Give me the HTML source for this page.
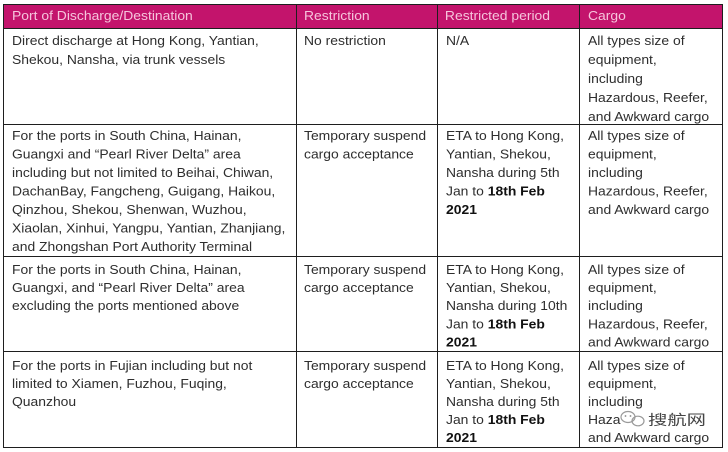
<!DOCTYPE html>
<html>
<head>
<meta charset="utf-8">
<style>
  html,body{margin:0;padding:0;background:#fff;}
  svg{display:block;}
  text{font-family:"Liberation Sans","Noto Sans CJK SC",sans-serif;font-size:13px;fill:#2e2e2e;}
  .h{fill:#f6c4dc;font-size:13px;}
  .b{font-weight:bold;fill:#111;}
  .wm{fill:#444;font-size:14px;}
</style>
</head>
<body>
<svg width="728" height="452" viewBox="0 0 728 452" xmlns="http://www.w3.org/2000/svg">
  <rect x="0" y="0" width="728" height="452" fill="#fff"/>
  <!-- header -->
  <rect x="3" y="4" width="719" height="24" fill="#c3146c"/>

  <!-- grid lines -->
  <g stroke="#1e1e1e" stroke-width="1" shape-rendering="crispEdges" fill="none">
    <line x1="3" y1="4.5" x2="722.5" y2="4.5"/>
    <line x1="3" y1="28.5" x2="722.5" y2="28.5"/>
    <line x1="3" y1="124.5" x2="722.5" y2="124.5"/>
    <line x1="3" y1="256.5" x2="722.5" y2="256.5"/>
    <line x1="3" y1="351.5" x2="722.5" y2="351.5"/>
    <line x1="3" y1="447.5" x2="722.5" y2="447.5"/>
    <line x1="3.5" y1="4" x2="3.5" y2="448"/>
    <line x1="296.5" y1="4" x2="296.5" y2="448"/>
    <line x1="437.5" y1="4" x2="437.5" y2="448"/>
    <line x1="579.5" y1="4" x2="579.5" y2="448"/>
    <line x1="722.5" y1="4" x2="722.5" y2="448"/>
  </g>

  <!-- Column 1 -->
  <g transform="translate(12 0) scale(1.07 1)">
    <text class="h" x="0" y="20">Port of Discharge/Destination</text>

    <text x="0" y="45">Direct discharge at Hong Kong, Yantian,</text>
    <text x="0" y="64">Shekou, Nansha, via trunk vessels</text>

    <text x="0" y="140">For the ports in South China, Hainan,</text>
    <text x="0" y="158.5">Guangxi and “Pearl River Delta” area</text>
    <text x="0" y="177">including but not limited to Beihai, Chiwan,</text>
    <text x="0" y="195.5">DachanBay, Fangcheng, Guigang, Haikou,</text>
    <text x="0" y="214">Qinzhou, Shekou, Shenwan, Wuzhou,</text>
    <text x="0" y="232.5">Xiaolan, Xinhui, Yangpu, Yantian, Zhanjiang,</text>
    <text x="0" y="251">and Zhongshan Port Authority Terminal</text>

    <text x="0" y="274">For the ports in South China, Hainan,</text>
    <text x="0" y="292">Guangxi, and “Pearl River Delta” area</text>
    <text x="0" y="310">excluding the ports mentioned above</text>

    <text x="0" y="370">For the ports in Fujian including but not</text>
    <text x="0" y="388">limited to Xiamen, Fuzhou, Fuqing,</text>
    <text x="0" y="406">Quanzhou</text>
  </g>

  <!-- Column 2 -->
  <g transform="translate(304 0) scale(1.07 1)">
    <text class="h" x="0" y="20">Restriction</text>
    <text x="0" y="45">No restriction</text>
    <text x="0" y="140">Temporary suspend</text>
    <text x="0" y="158.5">cargo acceptance</text>
    <text x="0" y="274">Temporary suspend</text>
    <text x="0" y="292">cargo acceptance</text>
    <text x="0" y="370">Temporary suspend</text>
    <text x="0" y="388">cargo acceptance</text>
  </g>

  <!-- Column 3 -->
  <g transform="translate(446 0) scale(1.07 1)">
    <text class="h" x="-1" y="20">Restricted period</text>
    <text x="0" y="45">N/A</text>

    <text x="0" y="140">ETA to Hong Kong,</text>
    <text x="0" y="158.5">Yantian, Shekou,</text>
    <text x="0" y="177">Nansha during 5th</text>
    <text x="0" y="195.5">Jan to <tspan class="b">18th Feb</tspan></text>
    <text x="0" y="214" class="b">2021</text>

    <text x="0" y="274">ETA to Hong Kong,</text>
    <text x="0" y="292">Yantian, Shekou,</text>
    <text x="0" y="310">Nansha during 10th</text>
    <text x="0" y="328.3">Jan to <tspan class="b">18th Feb</tspan></text>
    <text x="0" y="346.4" class="b">2021</text>

    <text x="0" y="370">ETA to Hong Kong,</text>
    <text x="0" y="388">Yantian, Shekou,</text>
    <text x="0" y="406">Nansha during 5th</text>
    <text x="0" y="424">Jan to <tspan class="b">18th Feb</tspan></text>
    <text x="0" y="442" class="b">2021</text>
  </g>

  <!-- Column 4 -->
  <g transform="translate(588 0) scale(1.07 1)">
    <text class="h" x="0" y="20">Cargo</text>

    <text x="0" y="45">All types size of</text>
    <text x="0" y="64">equipment,</text>
    <text x="0" y="83">including</text>
    <text x="0" y="102">Hazardous, Reefer,</text>
    <text x="0" y="121">and Awkward cargo</text>

    <text x="0" y="140">All types size of</text>
    <text x="0" y="158.5">equipment,</text>
    <text x="0" y="177">including</text>
    <text x="0" y="195.5">Hazardous, Reefer,</text>
    <text x="0" y="214">and Awkward cargo</text>

    <text x="0" y="274">All types size of</text>
    <text x="0" y="292">equipment,</text>
    <text x="0" y="310">including</text>
    <text x="0" y="328.3">Hazardous, Reefer,</text>
    <text x="0" y="346.4">and Awkward cargo</text>

    <text x="0" y="370">All types size of</text>
    <text x="0" y="388">equipment,</text>
    <text x="0" y="406">including</text>
    <text x="0" y="424">Haza</text>
    <text x="0" y="442">and Awkward cargo</text>
  </g>

  <!-- watermark icon -->
  <g fill="none" stroke="#9a9a9a" stroke-width="1.2">
    <ellipse cx="628" cy="417" rx="7" ry="5.5"/>
    <ellipse cx="638" cy="421" rx="6" ry="4.8"/>
  </g>
  <g fill="#888">
    <circle cx="625.5" cy="416" r="0.9"/>
    <circle cx="630.5" cy="416" r="0.9"/>
  </g>
  <text class="wm" x="648" y="425" textLength="58" lengthAdjust="spacingAndGlyphs">搜航网</text>
</svg>
</body>
</html>
